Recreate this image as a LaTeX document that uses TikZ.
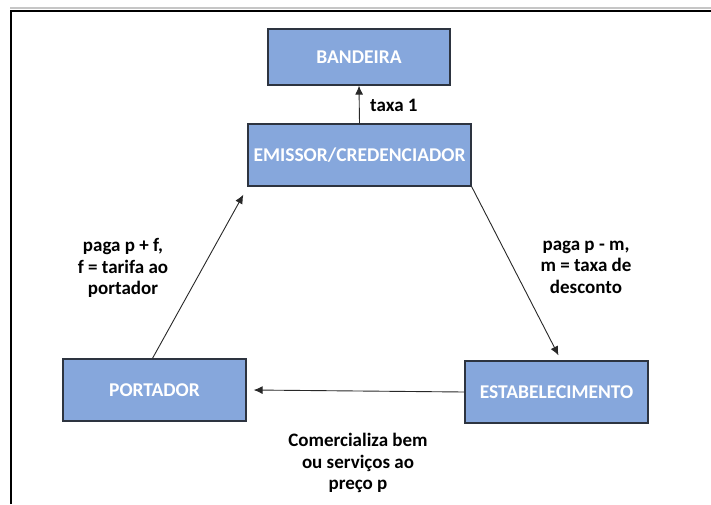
\documentclass[tikz,border=0pt]{standalone}
\usepackage{fontspec}
\setmainfont{Carlito}
\usetikzlibrary{arrows.meta}
\definecolor{boxfill}{RGB}{134,167,220}
\definecolor{boxline}{RGB}{45,52,64}
\definecolor{arrline}{RGB}{40,40,40}
\tikzset{
  actor/.style={draw=boxline, line width=1.3pt, fill=boxfill, minimum width=#1, minimum height=60pt,
    inner sep=0pt, text=white, font=\bfseries\fontsize{19.5}{22}\selectfont},
  actor/.default=183pt,
  flow/.style={draw=arrline, line width=0.9pt, -{Latex[length=9pt,width=8pt]}},
  note/.style={align=center, font=\bfseries\fontsize{19}{21.5}\selectfont, text=black, inner sep=0pt}
}
\begin{document}
\begin{tikzpicture}[x=1pt, y=-1pt]
  \useasboundingbox (0,0) rectangle (711,504);
  % frame
  \draw[gray!45, line width=1.2pt] (10,8) -- (711,8);
  \draw[black, line width=2.2pt] (11,504) -- (11,11) -- (711,11);

  % actors
  \node[actor=182pt, minimum height=56pt] (band) at (359,57) {BANDEIRA};
  \node[actor=223pt, minimum height=62pt] (emis) at (359.5,155) {EMISSOR/CREDENCIADOR};
  \node[actor=183pt, minimum height=62pt] (port) at (154.5,390) {PORTADOR};
  \node[actor=183pt, minimum height=62pt] (estab) at (556.5,392) {ESTABELECIMENTO};

  % flows
  \draw[flow] (emis.north) -- (band.south);
  \draw[flow] ([xshift=-2pt]port.north) -- ([xshift=-4pt,yshift=-8pt]emis.south west);
  \draw[flow] (emis.south east) -- ([xshift=2pt,yshift=5pt]estab.north);
  \draw[flow] (estab.west) -- ([xshift=7pt]port.east);

  % labels
  \node[note, anchor=west] (ltaxa) at (370,105) {taxa 1};
  \node[note] (lport) at (123,268) {paga p + f,\\f = tarifa ao\\portador};
  \node[note] (lestab) at (586,267) {paga p - m,\\m = taxa de\\desconto};
  \node[note] (lcom) at (358,463) {Comercializa bem\\ou serviços ao\\preço p};
\end{tikzpicture}
\end{document}
